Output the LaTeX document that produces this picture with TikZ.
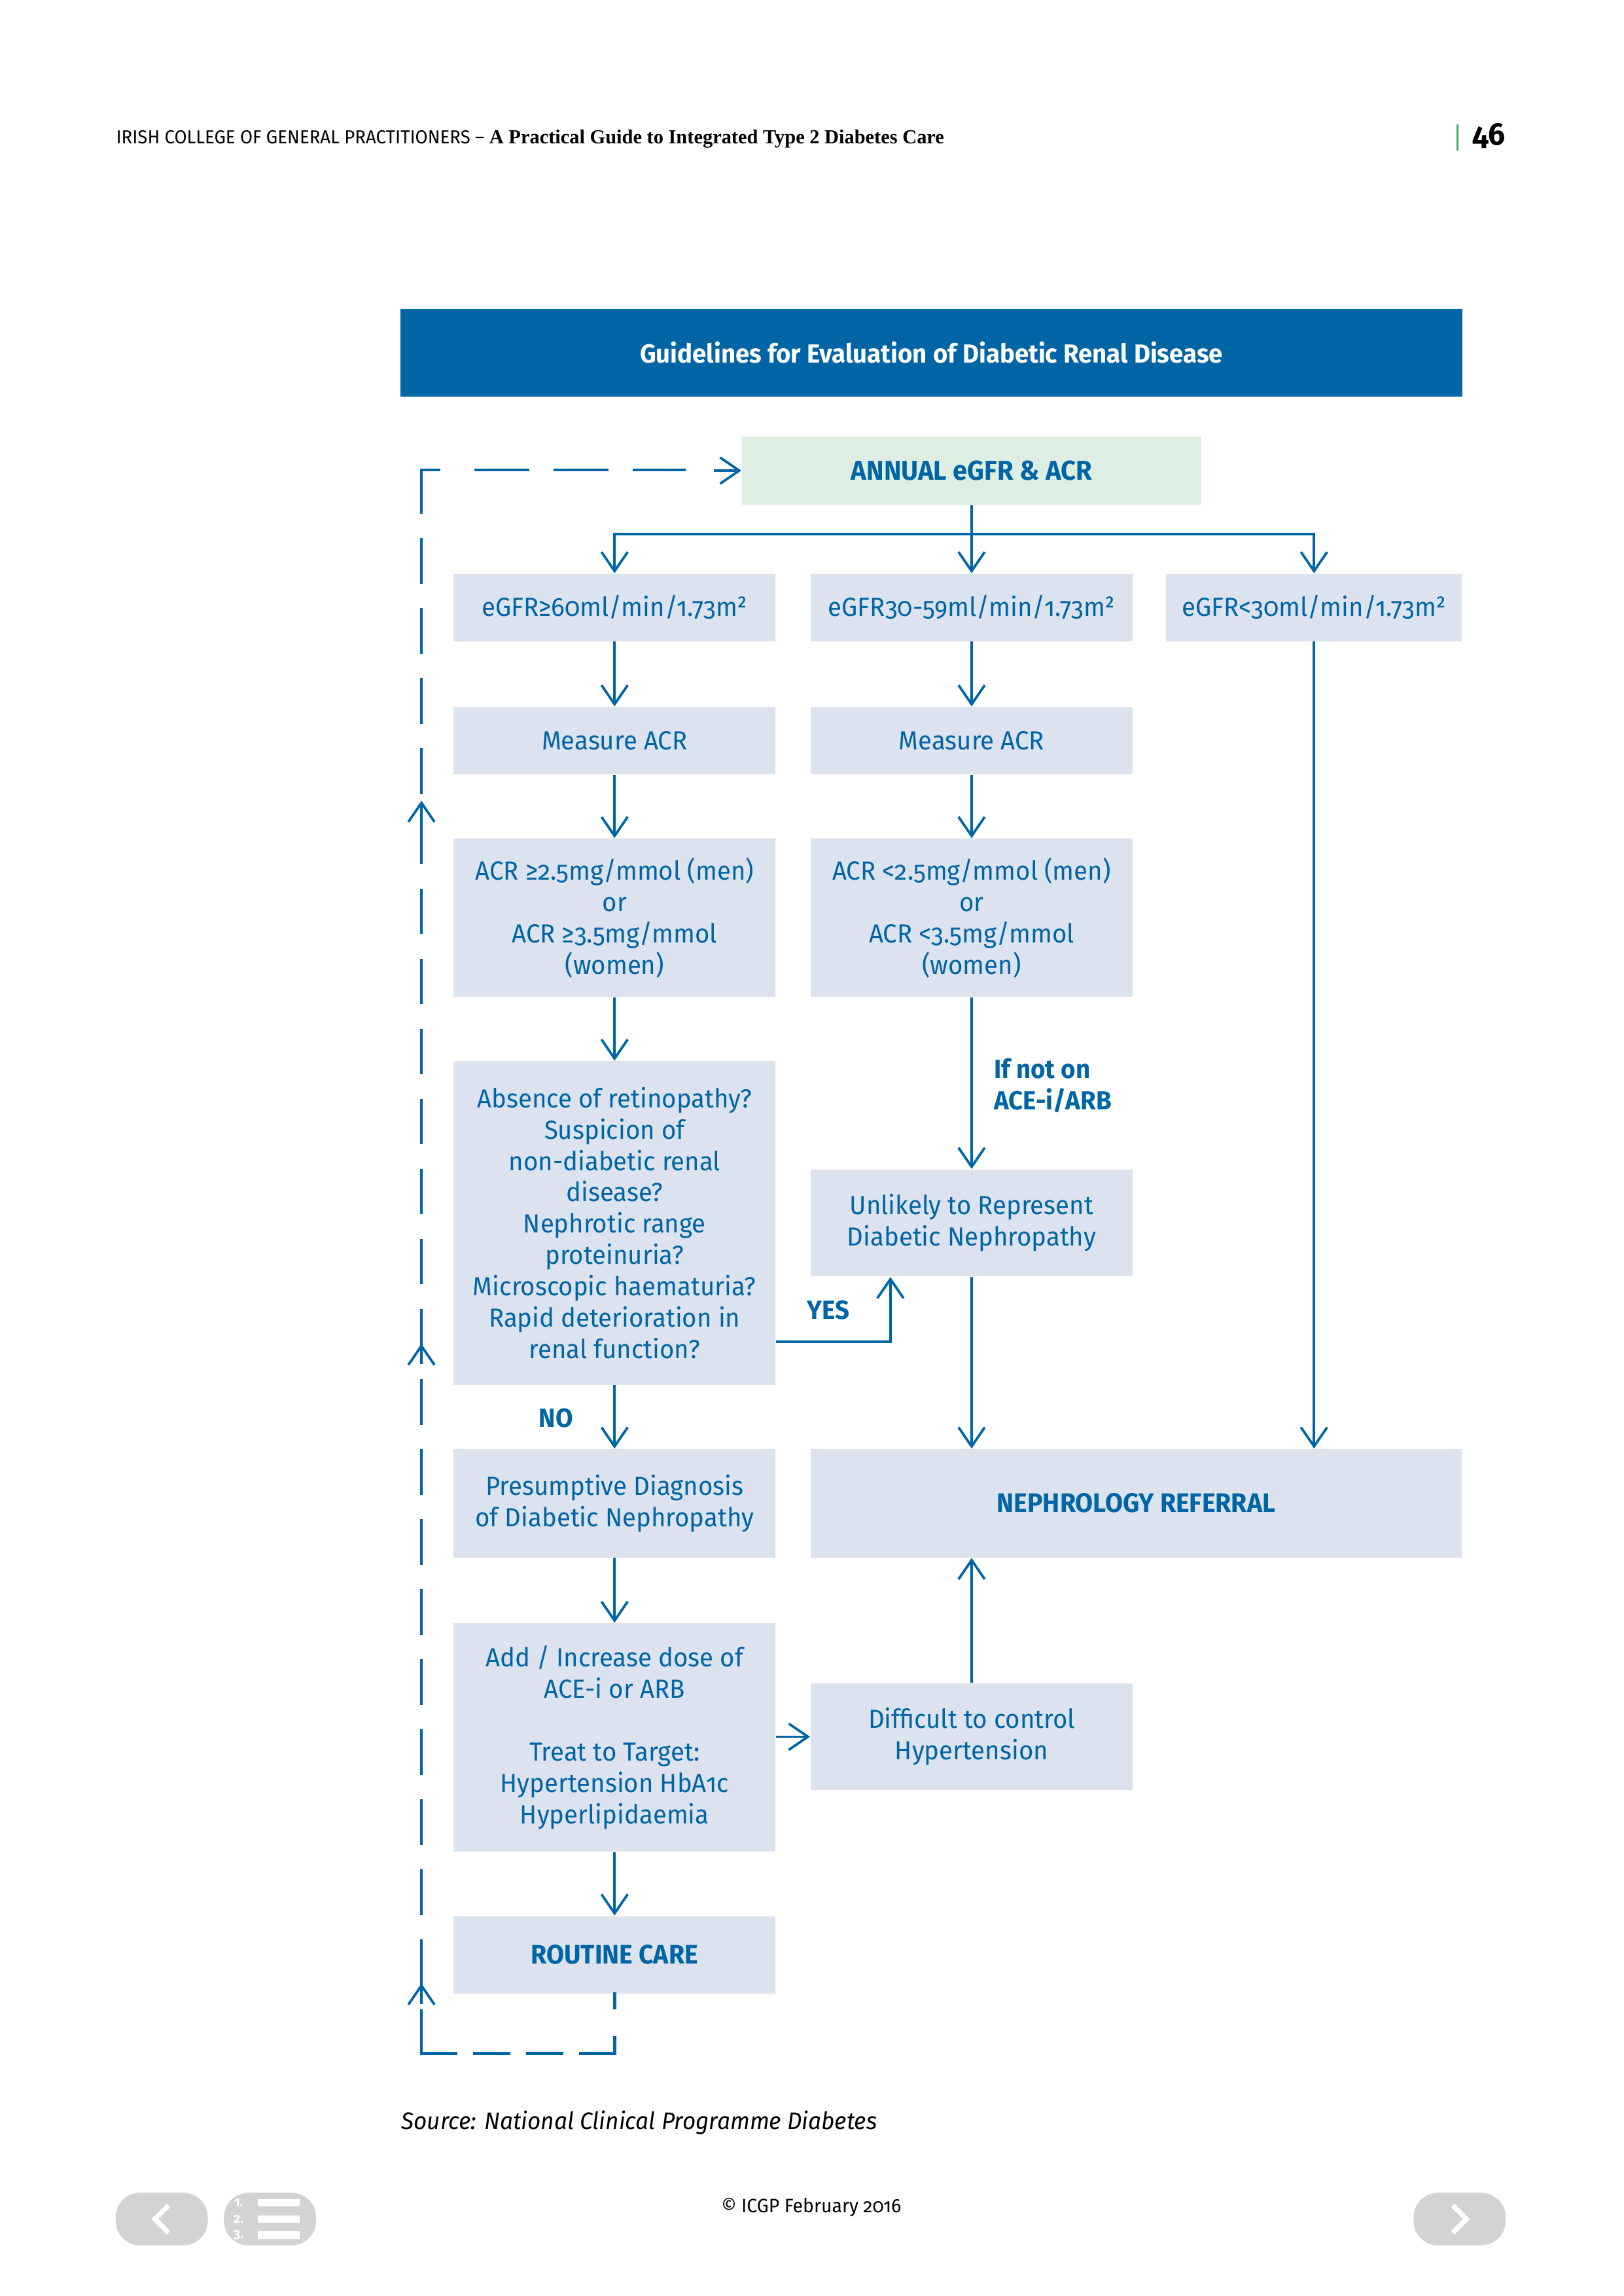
\documentclass[tikz,border=0pt]{standalone}
\usepackage{fontspec}
\setmainfont{Fira Sans}[Numbers=OldStyle, FakeStretch=0.96]
\newfontfamily\headserif{Liberation Serif}
\usetikzlibrary{positioning,arrows.meta}

\definecolor{icgpblue}{HTML}{0065A4}
\definecolor{boxgrey}{HTML}{DCE2EE}
\definecolor{boxgreen}{HTML}{DFEEE2}
\definecolor{btngrey}{HTML}{D1D3D4}
\definecolor{tabgreen}{HTML}{3DAE6B}

\begin{document}
\begin{tikzpicture}[
			x=0.5367pt, y=-0.5367pt,
			font=\fontsize{9.6}{11.5}\selectfont,
			box/.style = {fill=boxgrey, text=icgpblue, align=center, inner sep=0pt,
				minimum width=118.1pt, minimum height=24.7pt},
			flow/.style = {draw=icgpblue, line width=0.9pt,
				-{Straight Barb[length=7pt,width=9.6pt]}},
			back/.style = {draw=icgpblue, line width=1.1pt, line cap=rect},
			lbl/.style = {text=icgpblue, font=\bfseries\fontsize{9.6}{11.5}\selectfont, inner sep=0pt, align=left},
			btn/.style = {fill=btngrey, rounded corners=9pt, minimum width=33.8pt, minimum height=19.3pt, inner sep=0pt}
		]
		\useasboundingbox (0,0) rectangle (1109.4,1568.6);
		% Page header.
		\node[anchor=base west, inner sep=0pt, font=\fontsize{6.9}{8}\selectfont] (hdr) at (79,98)
			{IRISH COLLEGE OF GENERAL PRACTITIONERS – {\headserif\bfseries\fontsize{7.3}{8}\selectfont A Practical Guide to Integrated Type 2 Diabetes Care}};
		\node[anchor=base west, inner sep=0pt, font=\bfseries\fontsize{11.5}{12}\selectfont] (pg) at (1006,99) {46};
		\draw[tabgreen, line width=0.6pt] (996,85) -- (996,103);
		% Title.
		\node[fill=icgpblue, text=white, minimum width=389.4pt, minimum height=32.2pt, inner sep=0pt,
			font=\bfseries\fontsize{9.6}{12}\selectfont] (title) at (636.5,241)
			{Guidelines for Evaluation of Diabetic Renal Disease};
		\node[box, fill=boxgreen, minimum width=168.5pt, minimum height=25.2pt, font=\bfseries\fontsize{10}{12}\selectfont]
			(annual) at (664,321.5) {ANNUAL eGFR \& ACR};
		% Level 1.
		\node[box] (g60) at (420,415) {eGFR≥60ml/min/1.73m²};
		\node[box] (g30) at (664,415) {eGFR30-59ml/min/1.73m²};
		\node[box, minimum width=108.4pt] (g0) at (898,415) {eGFR<30ml/min/1.73m²};
		% Level 2.
		\node[box] (m1) at (420,506) {Measure ACR};
		\node[box] (m2) at (664,506) {Measure ACR};
		% Level 3.
		\node[box, minimum height=58pt] (acrh) at (420,627)
			{ACR ≥2.5mg/mmol (men)\\or\\ACR ≥3.5mg/mmol\\(women)};
		\node[box, minimum height=58pt] (acrl) at (664,627)
			{ACR <2.5mg/mmol (men)\\or\\ACR <3.5mg/mmol\\(women)};
		% Level 4.
		\node[box, minimum height=118.6pt] (susp) at (420,835.5)
			{Absence of retinopathy?\\Suspicion of\\non-diabetic renal\\disease?\\Nephrotic range\\proteinuria?\\Microscopic haematuria?\\Rapid deterioration in\\renal function?};
		\node[box, minimum height=39.2pt] (unlikely) at (664,835.5)
			{Unlikely to Represent\\Diabetic Nephropathy};
		% Level 5.
		\node[box, minimum height=39.7pt] (presum) at (420,1027)
			{Presumptive Diagnosis\\of Diabetic Nephropathy};
		\node[box, minimum width=238.8pt, minimum height=39.7pt, font=\bfseries\fontsize{9.8}{12}\selectfont]
			(nephro) at (776.5,1027) {NEPHROLOGY REFERRAL};
		% Level 6.
		\node[box, minimum height=83.7pt] (treat) at (420,1187)
			{Add / Increase dose of\\ACE-i or ARB\\[11.5pt]Treat to Target:\\Hypertension HbA1c\\Hyperlipidaemia};
		\node[box, minimum height=39.2pt] (difficult) at (664,1186.5)
			{Difficult to control\\Hypertension};
		% Level 7.
		\node[box, minimum height=28.4pt, font=\bfseries\fontsize{9.8}{12}\selectfont] (routine) at (420,1335.5) {ROUTINE CARE};

		\coordinate (split) at (664,365);
		\coordinate (yes) at (608.5,916.5);
		\coordinate (lr) at (420,1403);
		\coordinate (lb) at (288,1403);
		\coordinate (lt) at (288,321);
		\coordinate (lend) at (468,321);
		\coordinate (la) at ([xshift=-10.2pt]annual.west);

		\draw[flow, -] (annual) -- (split);
		\draw[flow] (split) -- (g30);
		\draw[flow] (split) -| (g60);
		\draw[flow] (split) -| (g0);
		\draw[flow] (g60) -- (m1);
		\draw[flow] (m1) -- (acrh);
		\draw[flow] (acrh) -- (susp);
		\draw[flow] (susp) -- (presum);
		\draw[flow] (presum) -- (treat);
		\draw[flow] (treat) -- (routine);
		\draw[flow] (g30) -- (m2);
		\draw[flow] (m2) -- (acrl);
		\draw[flow] (acrl) -- (unlikely);
		\draw[flow] (susp.east |- yes) -| (unlikely.south -| yes);
		\draw[flow] (unlikely) -- (unlikely |- nephro.north);
		\draw[flow] (g0) -- (g0 |- nephro.north);
		\draw[flow] (treat.east |- difficult) -- (difficult);
		\draw[flow] (difficult) -- (difficult |- nephro.south);
		% Back to the annual check.
		\draw[back, dash pattern=on 5pt off 11pt] (routine.south) -- (lr);
		\draw[back, dash pattern=on 12.5pt off 6.9pt] (lr) -- (lb);
		\draw[back, dash pattern=on 15.6pt off 10.09pt] (lb) -- (lt);
		\draw[back, dash pattern=on 6.5pt off 13.5pt on 19pt off 10pt on 19pt off 10pt on 18.5pt off 30pt] (lt) -- (lend);
		\draw[flow] (la) -- (annual.west);
		\foreach \y in {547,918,1355}
			\draw[flow] (288,\y+14) -- (288,\y);

		\node[lbl] (nolbl) at (380,969) {NO};
		\node[lbl] (yeslbl) at (566,895) {YES};
		\node[lbl, anchor=west] (acelbl) at (679,741.5) {If not on\\ACE-i/ARB};

		% Footer.
		\node[anchor=base west, inner sep=0pt, font=\itshape\fontsize{8.8}{11}\selectfont] (src) at (274,1455)
			{Source: National Clinical Programme Diabetes};
		\node[inner sep=0pt, font=\fontsize{7.1}{8}\selectfont] (copy) at (554.5,1508) {© ICGP February 2016};
		\node[btn] (prev) at (110.5,1516) {};
		\node[btn] (toc) at (184.5,1516) {};
		\node[btn] (next) at (997.5,1516) {};
		\draw[white, line width=1.8pt] ([xshift=2.5pt,yshift=5pt]prev.center) -- ([xshift=-2.5pt]prev.center) -- ([xshift=2.5pt,yshift=-5pt]prev.center);
		\draw[white, line width=1.8pt] ([xshift=-2.5pt,yshift=5pt]next.center) -- ([xshift=2.5pt]next.center) -- ([xshift=-2.5pt,yshift=-5pt]next.center);
		\foreach \n/\y in {1/1505,2/1516,3/1527} {
			\node[text=white, inner sep=0pt, font=\bfseries\fontsize{5}{5}\selectfont] (toc\n) at (163,\y) {\n.};
			\fill[white] (176,\y-2.5) rectangle (205,\y+2.5);
		}
	\end{tikzpicture}
\end{document}
